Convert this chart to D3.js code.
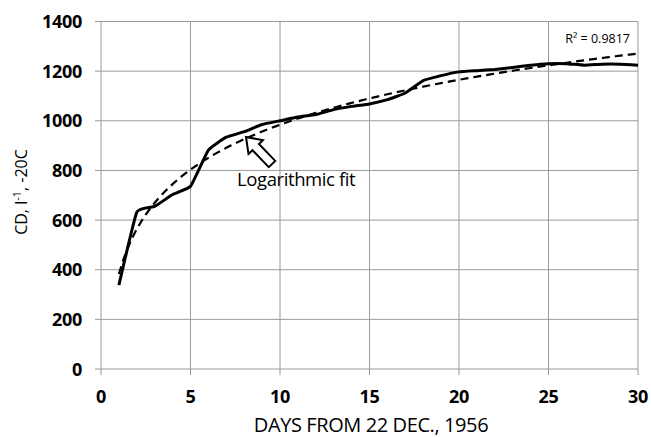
<!DOCTYPE html>
<html><head><meta charset="utf-8">
<script src="https://cdn.jsdelivr.net/npm/d3@7"></script>
<style>body{margin:0;background:#fff}svg{display:block}</style>
</head><body>
<svg id="c" width="651" height="437"></svg>
<script>
const days = [1,2,3,4,5,6,7,8,9,10,11,12,13,14,15,16,17,18,19,20,21,22,23,24,25,26,27,28,29,30];
const cd   = [338,632,655,703,736,882,934,956,985,1000,1015,1025,1045,1058,1068,1085,1112,1162,1182,1197,1202,1207,1215,1224,1230,1230,1224,1228,1228,1224];
const xTicks = [0,5,10,15,20,25,30];
const yTicks = [0,200,400,600,800,1000,1200,1400];
const r2Label = "R\u00B2 = 0.9817";
const fitLabel = "Logarithmic fit";
const xTitle = "DAYS FROM 22 DEC., 1956";

const svg = d3.select("#c");
const x = d3.scaleLinear().domain([0,30]).range([101,638]);
const y = d3.scaleLinear().domain([0,1400]).range([369,21.5]);
const font = "Open Sans, sans-serif";

// grid
const g = svg.append("g");
g.selectAll(".hg").data(yTicks).enter().append("line")
  .attr("x1",95).attr("x2",638).attr("y1",d=>y(d)).attr("y2",d=>y(d))
  .attr("stroke","#9a9a9a").attr("stroke-width",1);
g.selectAll(".vg").data(xTicks).enter().append("line")
  .attr("x1",d=>x(d)).attr("x2",d=>x(d)).attr("y1",y(1400)).attr("y2",375)
  .attr("stroke","#9a9a9a").attr("stroke-width",1);

// tick labels
svg.selectAll(".yl").data(yTicks).enter().append("text")
  .attr("x",82).attr("y",d=>y(d)+6.5).attr("text-anchor","end").attr("fill","#000")
  .attr("font-family",font).attr("font-weight","bold").attr("font-size",18)
  .attr("letter-spacing",-0.3).text(d=>d);
svg.selectAll(".xl").data(xTicks).enter().append("text")
  .attr("x",d=>x(d)).attr("y",403).attr("text-anchor","middle").attr("fill","#000")
  .attr("font-family",font).attr("font-weight","bold").attr("font-size",18)
  .attr("letter-spacing",-0.3).text(d=>d);

// titles
svg.append("text").attr("x",371).attr("y",432).attr("text-anchor","middle").attr("fill","#000")
  .attr("font-family",font).attr("font-size",20).attr("letter-spacing",-0.4).text(xTitle);
const yt = svg.append("text").attr("transform","translate(27,192) rotate(-90)").attr("text-anchor","middle")
  .attr("fill","#000").attr("font-family",font).attr("font-size",16);
yt.append("tspan").text("CD, l");
yt.append("tspan").attr("dy",-6).attr("font-size",11).text("-1");
yt.append("tspan").attr("dy",6).text(", -20C");

// log fit via least squares
const lx = days.map(Math.log);
const mx = d3.mean(lx), my = d3.mean(cd);
const a = d3.sum(lx.map((v,i)=>(v-mx)*(cd[i]-my))) / d3.sum(lx.map(v=>(v-mx)*(v-mx)));
const b = my - a*mx;
const fitPts = d3.range(1,30.01,0.25).map(d=>[d, a*Math.log(d)+b]);

svg.append("path").datum(fitPts)
  .attr("d", d3.line().x(d=>x(d[0])).y(d=>y(d[1])))
  .attr("fill","none").attr("stroke","#000").attr("stroke-width",2.2).attr("stroke-dasharray","8,5");

svg.append("path").datum(days.map((d,i)=>[d,cd[i]]))
  .attr("d", d3.line().x(d=>x(d[0])).y(d=>y(d[1])).curve(d3.curveCardinal.tension(0.65)))
  .attr("fill","none").attr("stroke","#000").attr("stroke-width",3).attr("stroke-linejoin","round");

// R2 label
svg.append("text").attr("x",630).attr("y",43).attr("text-anchor","end").attr("fill","#000")
  .attr("font-family",font).attr("font-size",12.5).text(r2Label);

// block arrow
const tip=[246,137], tail=[272,164];
const ang = Math.atan2(tip[1]-tail[1], tip[0]-tail[0]);
const L = Math.hypot(tip[0]-tail[0], tip[1]-tail[1]);
const hl = 14, hw = 10, sw = 4.5;
const pts = [[0,-sw],[L-hl,-sw],[L-hl,-hw],[L,0],[L-hl,hw],[L-hl,sw],[0,sw]]
  .map(([u,v])=>[tail[0]+u*Math.cos(ang)-v*Math.sin(ang), tail[1]+u*Math.sin(ang)+v*Math.cos(ang)]);
svg.append("polygon").attr("points",pts.map(p=>p.join(",")).join(" "))
  .attr("fill","#fff").attr("stroke","#000").attr("stroke-width",2);

svg.append("text").attr("x",237).attr("y",186).attr("fill","#000")
  .attr("font-family",font).attr("font-size",18.5).attr("letter-spacing",-0.4).text(fitLabel);
</script>
</body></html>
